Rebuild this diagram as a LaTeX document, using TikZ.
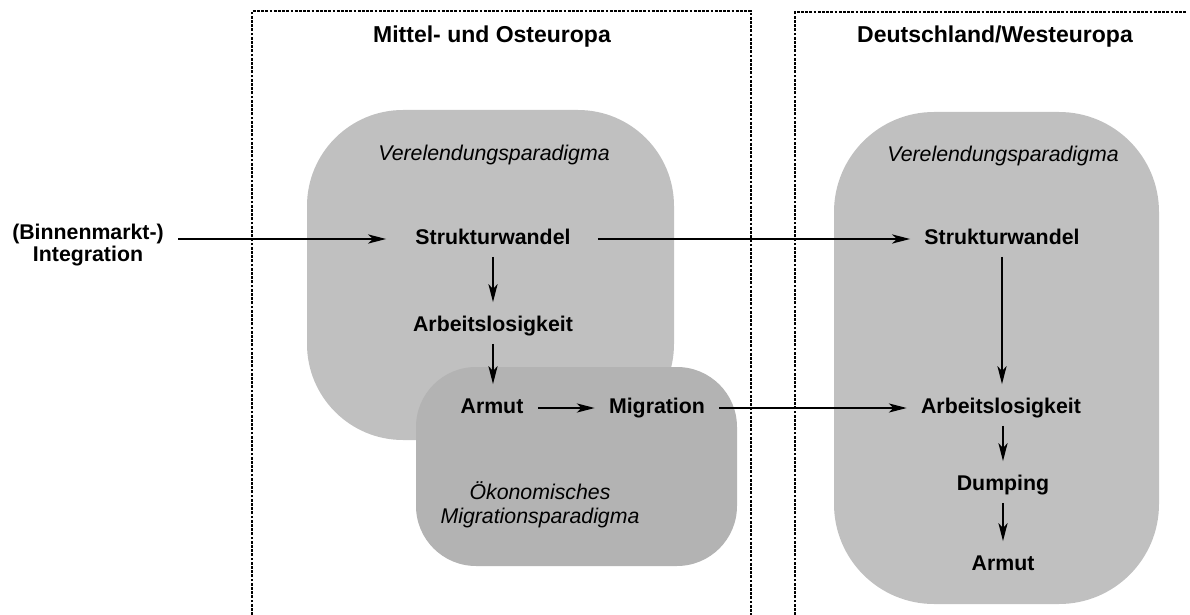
\documentclass[tikz,border=0pt]{standalone}
\usepackage{fontspec}
\setmainfont{Liberation Sans}
\usetikzlibrary{arrows.meta}
\definecolor{boxgray}{RGB}{192,192,192}
\definecolor{migrgray}{RGB}{179,179,179}

\begin{document}
\begin{tikzpicture}[x=0.5pt,y=0.5pt,yscale=-1,xscale=1,
	frame/.style={line width=0.9pt,dash pattern={on 1.4pt off 0.7pt}},
	title/.style={font=\fontsize{11.5}{13}\selectfont\bfseries},
	paradigm/.style={font=\fontsize{10.65}{12}\selectfont\itshape,align=center},
	term/.style={font=\fontsize{10.65}{12.5}\selectfont\bfseries,text height=8pt,text depth=2.5pt,inner xsep=7pt,inner ysep=3.5pt},
	flow/.style={-{Stealth[length=9pt,width=4.6pt,inset=2.4pt]},line width=0.65pt},
	down/.style={flow,shorten >=3pt}]
	\useasboundingbox (0,0) rectangle (1190,615);
	
	%Shape: Frames (no bottom edge)
	\draw [frame] (252,615) -- (252,11) -- (751,11) -- (751,615) ;
	\draw [frame] (795,615) -- (795,12) -- (1187,12) ;
	%Shape: Rounded Rectangles
	\fill [boxgray,rounded corners=48] (307,110) rectangle (674,440) ;
	\fill [boxgray,rounded corners=50] (834,112) rectangle (1159,604) ;
	\fill [migrgray,rounded corners=30] (416,367) rectangle (737,566) ;
	
	% Text Node
	\node [title] (moe) at (492,37) {Mittel- und Osteuropa};
	\node [title] (dwe) at (995,37) {Deutschland/Westeuropa};
	% Text Node
	\node [paradigm] (verl1) at (494,155) {Verelendungsparadigma};
	\node [paradigm] (verl2) at (1003,156) {Verelendungsparadigma};
	\node [paradigm] (oekmig) at (540,505) {Ökonomisches\\Migrationsparadigma};
	
	% Text Node
	\node [term,align=center,text height=,text depth=,font=\fontsize{10.65}{8.6}\selectfont\bfseries] (integ) at (88,245) {(Binnenmarkt-)\\Integration};
	\node [term] (sw1) at (493,239) {Strukturwandel};
	\node [term] (al1) at (493,326) {Arbeitslosigkeit};
	\node [term] (arm1) at (492,408) {Armut};
	\node [term] (migr) at (657,408) {Migration};
	\node [term] (sw2) at (1002,239) {Strukturwandel};
	\node [term] (al2) at (1001,408) {Arbeitslosigkeit};
	\node [term] (dump) at (1003,485) {Dumping};
	\node [term] (arm2) at (1003,565) {Armut};
	
	%Straight Lines
	\draw [flow,shorten >=7.5pt] (integ.east |- sw1) -- (sw1) ;
	\draw [flow,shorten <=6.5pt] (sw1) -- (sw2) ;
	\draw [down] (sw1) -- (al1) ;
	\draw [down] (al1) -- (al1 |- arm1.north) ;
	\draw [flow] (arm1) -- (migr) ;
	\draw [flow] (migr) -- (al2) ;
	\draw [down] (sw2) -- (sw2 |- al2.north) ;
	\draw [down] (al2.south -| dump) -- (dump) ;
	\draw [down] (dump) -- (arm2) ;
	
\end{tikzpicture}
\end{document}
